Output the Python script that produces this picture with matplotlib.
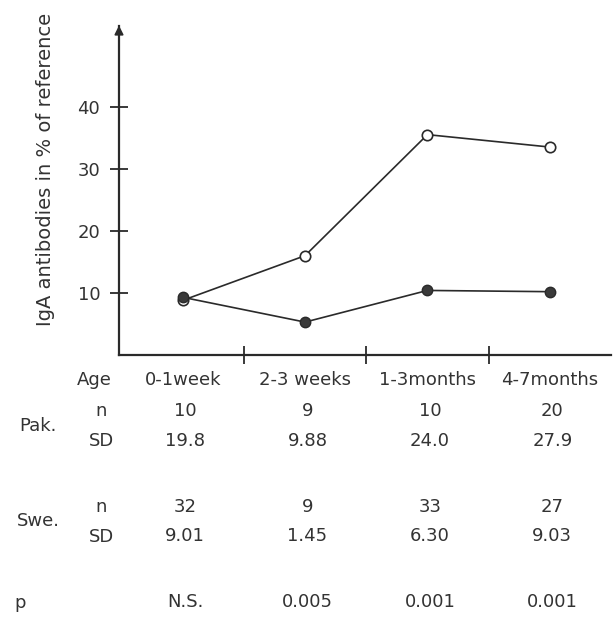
import numpy as np
import matplotlib.pyplot as plt
from matplotlib.transforms import blended_transform_factory

ages = ["0-1week", "2-3 weeks", "1-3months", "4-7months"]
pak_iga = [8.8, 16.0, 35.5, 33.5]
swe_iga = [9.3, 5.3, 10.4, 10.2]
pak_n = ["10", "9", "10", "20"]
pak_sd = ["19.8", "9.88", "24.0", "27.9"]
swe_n = ["32", "9", "33", "27"]
swe_sd = ["9.01", "1.45", "6.30", "9.03"]
p_vals = ["N.S.", "0.005", "0.001", "0.001"]
yticks = [10, 20, 30, 40]

plt.rcParams['font.family'] = ['DejaVu Sans']
W, H = 613, 618
fig = plt.figure(figsize=(W / 100, H / 100), dpi=100)

def fy(py):
  return 1 - py / H

ink = "#2a2a2a"
ax = fig.add_axes([119 / W, fy(355), (611 - 119) / W, (355 - 26) / H])
x = np.arange(len(ages))
ax.plot(x, pak_iga, color=ink, lw=1.2, marker="o", ms=7.5, mfc="white", mec=ink, mew=1.2)
ax.plot(x, swe_iga, color=ink, lw=1.2, marker="o", ms=7.5, mfc="#3a3a3a", mec=ink)

ax.set_xlim(-0.52, 3.5)
ax.set_ylim(0, 53)
ax.set_xticks([0.5, 1.5, 2.5])
ax.set_xticklabels([])
ax.set_yticks(yticks)
ax.set_yticklabels([str(v) for v in yticks], fontsize=13, color="#333333")
ax.tick_params(axis="both", direction="inout", length=13, width=1.3, color=ink)
ax.tick_params(axis="y", pad=7)
for s in ["top", "right"]:
  ax.spines[s].set_visible(False)
for s in ["left", "bottom"]:
  ax.spines[s].set_linewidth(1.6)
  ax.spines[s].set_color(ink)
# arrow on the y axis
ax.annotate("", xy=(0, 1.01), xytext=(0, 0.94), xycoords="axes fraction",
            arrowprops=dict(arrowstyle="-|>", color=ink, lw=1.3, mutation_scale=13))
ax.set_ylabel("IgA antibodies in % of reference", fontsize=14, color="#333333")
ax.yaxis.set_label_coords(-0.13, 0.565)

# table under the chart
tr = blended_transform_factory(ax.transData, fig.transFigure)
fs = 13
col = "#333333"
rows = [(ages, 380, -0.02), (pak_n, 411, 0), (pak_sd, 441, 0),
        (swe_n, 507, 0), (swe_sd, 536, 0), (p_vals, 602, 0)]
for vals, py, dx in rows:
  for i, v in enumerate(vals):
    ax.text(i + 0.02 + dx, fy(py), v, transform=tr, ha="center", va="center", fontsize=fs, color=col)

labels = [("Age", 94, 380), ("n", 101, 411), ("SD", 101, 441), ("Pak.", 38, 426),
          ("n", 101, 507), ("SD", 101, 537), ("Swe.", 38, 521), ("p", 20, 603)]
for t, px, py in labels:
  fig.text(px / W, fy(py), t, ha="center", va="center", fontsize=fs, color=col)

fig.savefig("out.png", dpi=100)
